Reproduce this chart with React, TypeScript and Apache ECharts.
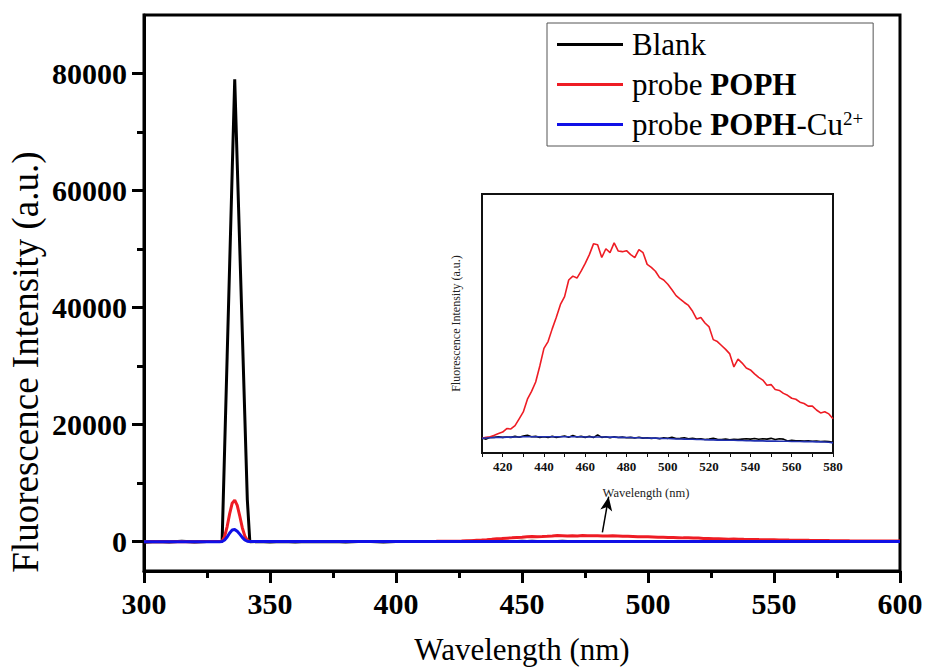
import React, { useEffect, useRef } from "react";
import * as echarts from "echarts";

const SERIF = "'Liberation Serif', 'Times New Roman', serif";

// ---- Main-plot wavelength segments (nm) ----
const baseWl = [300, 305, 310, 315, 320, 325, 330];
const peakWl = [331, 332, 333, 334, 335, 336, 337, 338, 339, 340, 341, 342];
const midWl = [345, 350, 355, 360, 365, 370, 375, 380, 385, 390, 395, 400, 405];
const tailWl = [585, 590, 595, 600];

// Blank
const blankBase = [-80, 60, -40, 90, -60, 40, 20];
const blankPeak = [100, 15900, 31700, 47500, 63300, 79000, 64600, 50300, 35900, 21500, 7200, 0];
const blankMid = [30, -50, 40, -30, 60, -20, 30, -40, 20, 50, -30, 40, 20];
const blankTail = [30, 25, 28, 22];

// probe POPH
const poprBase = [10, 20, 15, 20, 10, 20, 30];
const poprPeak = [100, 900, 2600, 4800, 6600, 7100, 6200, 4400, 2400, 1000, 250, 50];
const poprMid = [30, 25, 30, 25, 30, 35, 30, 35, 40, 35, 40, 45, 45];
const poprTail = [140, 125, 115, 105];

// probe POPH-Cu2+
const cuBase = [0, 5, 0, 10, 0, 5, 10];
const cuPeak = [50, 300, 800, 1500, 2000, 2100, 1800, 1300, 750, 300, 80, 20];
const cuMid = [20, 20, 25, 25, 30, 30, 35, 35, 40, 40, 45, 45, 48];
const cuTail = [26, 25, 24, 23];

// ---- Inset region 410–580 nm, step 2 ----
const insetWl = [
  410, 412, 414, 416, 418, 420, 422, 424, 426, 428, 430, 432, 434, 436, 438, 440, 442, 444, 446, 448,
  450, 452, 454, 456, 458, 460, 462, 464, 466, 468, 470, 472, 474, 476, 478, 480, 482, 484, 486, 488,
  490, 492, 494, 496, 498, 500, 502, 504, 506, 508, 510, 512, 514, 516, 518, 520, 522, 524, 526, 528,
  530, 532, 534, 536, 538, 540, 542, 544, 546, 548, 550, 552, 554, 556, 558, 560, 562, 564, 566, 568,
  570, 572, 574, 576, 578, 580,
];
const insetRed = [
  50, 55, 58, 66, 75, 82, 100, 98, 115, 150, 185, 250, 290, 338, 420, 510, 545, 610, 670, 735,
  775, 860, 880, 870, 905, 945, 990, 1045, 1040, 975, 1020, 1000, 1050, 1008, 1005, 1010, 990, 975, 1015, 1000,
  940, 925, 905, 872, 860, 838, 810, 780, 762, 745, 730, 700, 660, 668, 640, 620, 555, 545, 525, 505,
  482, 415, 455, 435, 410, 400, 380, 362, 348, 322, 325, 300, 295, 280, 270, 255, 250, 235, 228, 215,
  215, 195, 180, 186, 175, 150,
];
const insetBlank = [
  52, 46, 56, 55, 58, 55, 57, 55, 60, 56, 62, 66, 58, 60, 55, 58, 54, 60, 55, 58,
  62, 56, 64, 57, 60, 55, 61, 54, 68, 55, 58, 53, 58, 54, 56, 53, 55, 52, 56, 51,
  53, 50, 52, 48, 53, 50, 55, 49, 50, 53, 48, 50, 46, 48, 44, 46, 50, 45, 44, 46,
  43, 45, 44, 46, 48, 46, 49, 45, 48, 46, 50, 44, 48, 46, 36, 40, 37, 38, 36, 37,
  35, 36, 34, 35, 33, 30,
];
const insetBlue = [
  50, 52, 53, 54, 55, 55, 56, 56, 57, 57, 58, 58, 58, 58, 58, 58, 58, 58, 58, 58,
  58, 58, 58, 58, 58, 57, 57, 57, 57, 57, 57, 56, 56, 55, 55, 54, 54, 53, 53, 52,
  52, 51, 51, 50, 49, 49, 48, 47, 47, 46, 45, 45, 44, 44, 43, 42, 42, 41, 41, 40,
  40, 40, 39, 39, 38, 38, 37, 37, 37, 36, 36, 36, 35, 35, 35, 34, 34, 34, 33, 33,
  33, 32, 32, 31, 30, 27,
];

// ---- Axis ticks ----
const yMajor = [0, 20000, 40000, 60000, 80000];
const yMinor = [10000, 30000, 50000, 70000];
const insetXLabels = [420, 440, 460, 480, 500, 520, 540, 560, 580];

// arrow annotation (data coords of main plot)
const arrowFrom = [481.9, 1600];
const arrowTo = [484.4, 7700];

const seriesNames = ["Blank", "probe POPH", "probe POPH-Cu2+"];
const colors = ["#000000", "#ee1c24", "#1010e6"];

const mainWl = [...baseWl, ...peakWl, ...midWl, ...insetWl, ...tailWl];
const mainBlank = [...blankBase, ...blankPeak, ...blankMid, ...insetBlank, ...blankTail];
const mainRed = [...poprBase, ...poprPeak, ...poprMid, ...insetRed, ...poprTail];
const mainBlue = [...cuBase, ...cuPeak, ...cuMid, ...insetBlue, ...cuTail];

const zip = (xs: number[], ys: number[]) => xs.map((x, i) => [x, ys[i]]);

export default function App() {
  const ref = useRef<HTMLDivElement>(null);
  useEffect(() => {
    if (!ref.current) return;
    const chart = echarts.init(ref.current, null, { renderer: "svg" });
    const mainData = [mainBlank, mainRed, mainBlue];
    const insetData = [insetBlank, insetRed, insetBlue];

    const option: any = {
      animation: false,
      backgroundColor: "#fff",
      textStyle: { fontFamily: SERIF },
      grid: [
        {
          left: 144, top: 15, width: 756, height: 563,
          show: true, borderColor: "#000", borderWidth: 3, backgroundColor: "transparent",
        },
        {
          left: 482, top: 194, width: 351, height: 259,
          show: true, borderColor: "#111", borderWidth: 2, backgroundColor: "#fff", z: 5,
        },
      ],
      legend: {
        data: seriesNames,
        orient: "vertical",
        left: 547,
        top: 23,
        padding: [6, 10, 6, 10],
        itemGap: 9,
        itemWidth: 66,
        itemHeight: 3,
        icon: "rect",
        borderColor: "#555",
        borderWidth: 1,
        backgroundColor: "#fff",
        formatter: (name: string) => {
          if (name === "probe POPH") return "{n|probe }{b|POPH}";
          if (name === "probe POPH-Cu2+") return "{n|probe }{b|POPH}{n|-Cu}{s|2+}";
          return "{n|" + name + "}";
        },
        textStyle: {
          fontFamily: SERIF, fontSize: 30, color: "#000", padding: [0, 0, 0, 4],
          rich: {
            n: { fontFamily: SERIF, fontSize: 31, color: "#000" },
            b: { fontFamily: SERIF, fontSize: 31, fontWeight: "bold", color: "#000" },
            s: { fontFamily: SERIF, fontSize: 19, color: "#000", verticalAlign: "top", padding: [0, 2, 0, 0] },
          },
        },
      },
      xAxis: [
        {
          gridIndex: 0, type: "value", min: 300, max: 600, interval: 50,
          name: "Wavelength (nm)", nameLocation: "middle", nameGap: 63,
          nameTextStyle: { fontFamily: SERIF, fontSize: 31, color: "#000" },
          axisLine: { show: true, onZero: false, lineStyle: { color: "#000", width: 3 } },
          axisTick: { show: true, length: 12, lineStyle: { color: "#000", width: 3 } },
          minorTick: { show: true, splitNumber: 2, length: 7, lineStyle: { color: "#000", width: 3 } },
          axisLabel: {
            fontFamily: SERIF, fontSize: 30, fontWeight: "bold", color: "#000", margin: 17,
          },
          splitLine: { show: false },
          minorSplitLine: { show: false },
        },
        {
          gridIndex: 1, type: "value", min: 410, max: 580, interval: 10,
          name: "Wavelength (nm)", nameLocation: "middle", nameGap: 33,
          nameTextStyle: { fontFamily: SERIF, fontSize: 12.5, color: "#222", padding: [0, 23, 0, 0] },
          axisLine: { show: true, onZero: false, lineStyle: { color: "#111", width: 2 } },
          axisTick: { show: true, length: 4, lineStyle: { color: "#111", width: 1 } },
          axisLabel: {
            fontFamily: SERIF, fontSize: 13, fontWeight: "bold", color: "#111", margin: 7,
            formatter: (v: number) => (insetXLabels.indexOf(v) >= 0 ? String(v) : ""),
          },
          splitLine: { show: false },
        },
      ],
      yAxis: [
        {
          gridIndex: 0, type: "value", min: -5000, max: 90000,
          axisLine: { show: true, onZero: false, lineStyle: { color: "#000", width: 3 } },
          axisTick: { show: true, customValues: yMajor, length: 12, lineStyle: { color: "#000", width: 3 } },
          axisLabel: {
            customValues: yMajor,
            fontFamily: SERIF, fontSize: 30, fontWeight: "bold", color: "#000", margin: 17,
            formatter: (v: number) => String(v),
          },
          splitLine: { show: false },
        },
        {
          gridIndex: 0, type: "value", min: -5000, max: 90000, position: "left",
          axisLine: { show: false },
          axisTick: { show: true, customValues: yMinor, length: 7, lineStyle: { color: "#000", width: 3 } },
          axisLabel: { show: false },
          splitLine: { show: false },
        },
        {
          gridIndex: 1, type: "value", min: -25, max: 1300,
          name: "Fluorescence Intensity (a.u.)", nameLocation: "middle", nameGap: 20,
          nameTextStyle: { fontFamily: SERIF, fontSize: 12, color: "#222" },
          axisLine: { show: true, onZero: false, lineStyle: { color: "#111", width: 2 } },
          axisTick: { show: false },
          axisLabel: { show: false },
          splitLine: { show: false },
        },
      ],
      graphic: [
        {
          type: "text",
          x: 25,
          y: 362,
          rotation: Math.PI / 2,
          style: {
            text: "Fluorescence Intensity (a.u.)",
            font: "37px " + SERIF,
            fill: "#000",
            align: "center",
            verticalAlign: "middle",
          },
        },
      ],
      series: [
        ...seriesNames.map((name, i) => ({
          name,
          type: "line",
          xAxisIndex: 0,
          yAxisIndex: 0,
          showSymbol: false,
          symbol: "none",
          data: zip(mainWl, mainData[i]),
          lineStyle: { color: colors[i], width: 3 },
          itemStyle: { color: colors[i] },
          z: 2 + i,
          markLine:
            i === 0
              ? {
                  silent: true,
                  symbol: ["none", "arrow"],
                  symbolSize: [9, 14],
                  label: { show: false },
                  lineStyle: { color: "#000", width: 1.5, type: "solid" },
                  data: [[{ coord: arrowFrom }, { coord: arrowTo }]],
                }
              : undefined,
        })),
        ...seriesNames.map((name, i) => ({
          name: "inset " + name,
          type: "line",
          xAxisIndex: 1,
          yAxisIndex: 2,
          showSymbol: false,
          symbol: "none",
          data: zip(insetWl, insetData[i]),
          lineStyle: { color: i === 2 ? "#2030b0" : colors[i], width: 1.6 },
          itemStyle: { color: colors[i] },
          z: 10 + i,
        })),
      ],
    };
    chart.setOption(option);
    return () => chart.dispose();
  }, []);
  return (
    <div
      ref={ref}
      style={{ position: "absolute", left: 0, top: 0, width: 927, height: 670, background: "#fff" }}
    />
  );
}
